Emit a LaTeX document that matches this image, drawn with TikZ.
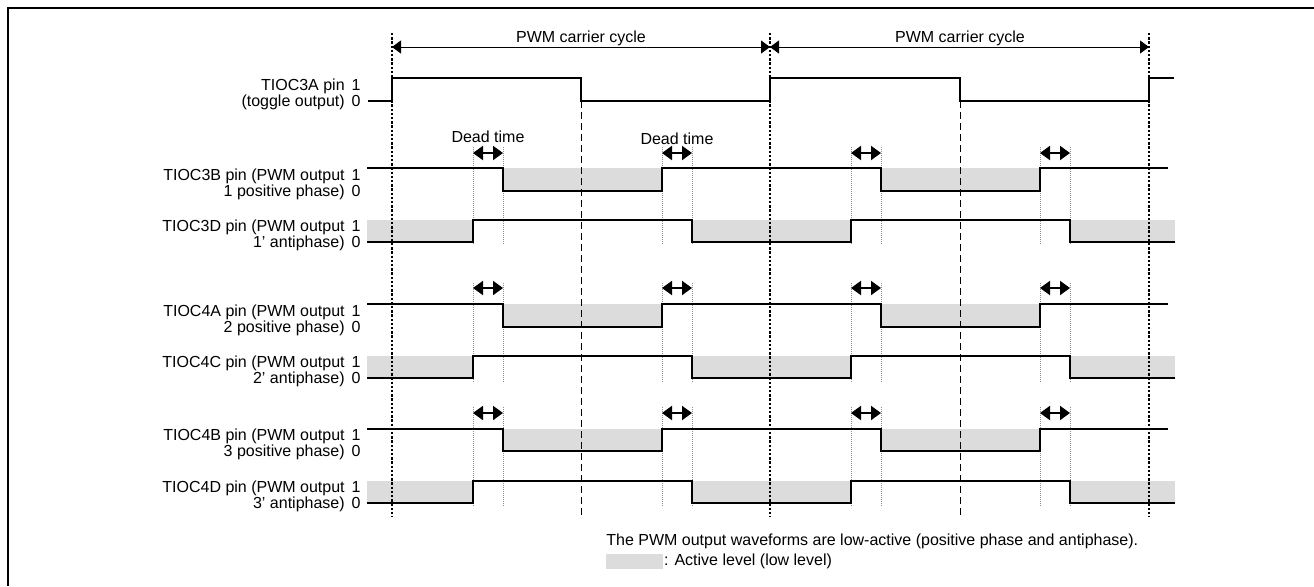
\documentclass[tikz,border=0pt]{standalone}
\usepackage{fontspec}
\setmainfont{Liberation Sans}
\usetikzlibrary{arrows.meta,positioning}
\definecolor{ink}{HTML}{000000}
\definecolor{activefill}{HTML}{DCDCDC}
\definecolor{guide}{HTML}{8C8C8C}
\tikzset{
  wave/.style={draw=ink, line width=1pt, line join=miter},
  active/.style={fill=activefill},
  frameline/.style={draw=ink, line width=1pt},
  cycleline/.style={draw=ink, line width=1pt, dash pattern=on 1.2pt off 0.9pt},
  midline/.style={draw=ink, line width=0.5pt, dash pattern=on 3.5pt off 2pt},
  deadline/.style={draw=guide, line width=0.5pt, dash pattern=on 0.5pt off 0.5pt},
  cyclearrow/.style={{Triangle[length=4.5pt,width=6.5pt]}-{Triangle[length=4.5pt,width=6.5pt]}, draw=ink, line width=0.5pt},
  deadarrow/.style={{Triangle[length=5pt,width=7pt]}-{Triangle[length=5pt,width=7pt]}, draw=ink, line width=1pt},
  pinlabel/.style={anchor=east, align=right, inner sep=0pt, font=\fontsize{8}{8}\selectfont},
  caption/.style={inner sep=0pt, font=\fontsize{8}{8}\selectfont},
  swatch/.style={fill=activefill, inner sep=0pt, minimum width=28.5pt, minimum height=7.5pt}
}

\begin{document}
\begin{tikzpicture}[x=0.5pt, y=-0.5pt]
  \useasboundingbox (0,0) rectangle (1314,586);
  \draw[frameline] (8,586) -- (8,8) -- (1314,8);

  \foreach \ya/\yb in {168/191, 304/327, 429/451} {
    \fill[active] (503,\ya) rectangle (662,\yb);
    \fill[active] (881,\ya) rectangle (1040,\yb);
  }
  \foreach \ya/\yb in {220/242, 356/378, 481/503} {
    \fill[active] (367,\ya) rectangle (473,\yb);
    \fill[active] (692,\ya) rectangle (851,\yb);
    \fill[active] (1070,\ya) rectangle (1175,\yb);
  }

  \foreach \x in {392,770,1149}
    \draw[cycleline] (\x,33) -- (\x,517);
  \foreach \x in {581,960}
    \draw[midline] (\x,101) -- (\x,518);
  \foreach \ya/\yb in {147/245, 283/382, 407/506}
    \foreach \x in {473,503,662,692,851,881,1040,1070}
      \draw[deadline] (\x,\ya) -- (\x,\yb);

  \draw[wave] (368,101) -| (392,78) -| (581,101) -| (770,78) -| (960,101) -| (1149,78) -- (1174,78);
  \foreach \ya/\yb in {168/191, 304/327, 429/451}
    \draw[wave] (367,\ya) -| (503,\yb) -| (662,\ya) -| (881,\yb) -| (1040,\ya) -- (1168,\ya);
  \foreach \ya/\yb in {220/242, 356/378, 481/503}
    \draw[wave] (367,\yb) -| (473,\ya) -| (692,\yb) -| (851,\ya) -| (1070,\yb) -- (1175,\yb);

  \draw[cyclearrow] (392,47) -- (770,47);
  \draw[cyclearrow] (770,47) -- (1149,47);
  \foreach \y in {153,288,413}
    \foreach \a/\b in {473/503, 662/692, 851/881, 1040/1070}
      \draw[deadarrow] (\a,\y) -- (\b,\y);

  \node[caption] (pwm1) at (581,38) {PWM carrier cycle};
  \node[caption] (pwm2) at (960,38) {PWM carrier cycle};
  \node[caption] (dead1) at (488,137) {Dead time};
  \node[caption] (dead2) at (677,139) {Dead time};

  \node[pinlabel] (tioc3a) at (361,94) {TIOC3A pin\hspace{3.5pt}1\\(toggle output)\hspace{3.5pt}0};
  \node[pinlabel] (tioc3b) at (361,184) {TIOC3B pin (PWM output\hspace{3.5pt}1\\1 positive phase)\hspace{3.5pt}0};
  \node[pinlabel] (tioc3d) at (361,235) {TIOC3D pin (PWM output\hspace{3.5pt}1\\1' antiphase)\hspace{3.5pt}0};
  \node[pinlabel] (tioc4a) at (361,320) {TIOC4A pin (PWM output\hspace{3.5pt}1\\2 positive phase)\hspace{3.5pt}0};
  \node[pinlabel] (tioc4c) at (361,371) {TIOC4C pin (PWM output\hspace{3.5pt}1\\2' antiphase)\hspace{3.5pt}0};
  \node[pinlabel] (tioc4b) at (361,444) {TIOC4B pin (PWM output\hspace{3.5pt}1\\3 positive phase)\hspace{3.5pt}0};
  \node[pinlabel] (tioc4d) at (361,496) {TIOC4D pin (PWM output\hspace{3.5pt}1\\3' antiphase)\hspace{3.5pt}0};

  \node[caption, anchor=west] (note) at (606,541) {The PWM output waveforms are low-active (positive phase and antiphase).};
  \node[swatch, anchor=west] (key) at (606,561.5) {};
  \node[caption, right=0pt of key] (keytext) {: Active level (low level)};
\end{tikzpicture}
\end{document}
